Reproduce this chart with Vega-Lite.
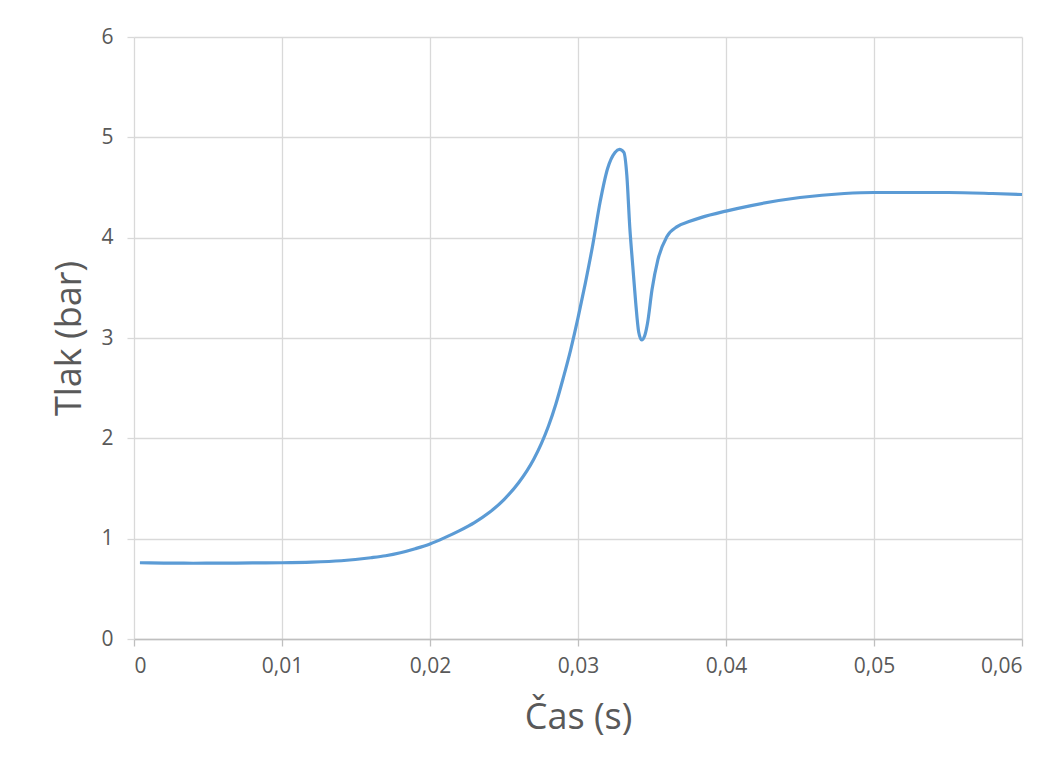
{
  "$schema": "https://vega.github.io/schema/vega-lite/v6.json",
  "autosize": "none",
  "width": 888,
  "height": 602,
  "padding": {"left": 134, "top": 37, "right": 41, "bottom": 132},
  "background": "white",
  "config": {
    "font": "Open Sans",
    "view": {"stroke": null},
    "axis": {
      "gridColor": "#d9d9d9",
      "gridWidth": 1.3,
      "labelColor": "#595959",
      "labelFontSize": 21,
      "titleColor": "#595959",
      "titleFontSize": 36,
      "titleFontWeight": "normal",
      "tickColor": "#d9d9d9",
      "tickSize": 7,
      "tickWidth": 1.3
    }
  },
  "data": {
    "values": [
      {"t": 0.0004, "p": 0.76},
      {"t": 0.002, "p": 0.757},
      {"t": 0.004, "p": 0.755},
      {"t": 0.006, "p": 0.756},
      {"t": 0.008, "p": 0.758},
      {"t": 0.010, "p": 0.76},
      {"t": 0.012, "p": 0.766},
      {"t": 0.014, "p": 0.78},
      {"t": 0.016, "p": 0.81},
      {"t": 0.017, "p": 0.83},
      {"t": 0.018, "p": 0.86},
      {"t": 0.019, "p": 0.9},
      {"t": 0.020, "p": 0.947},
      {"t": 0.021, "p": 1.01},
      {"t": 0.022, "p": 1.08},
      {"t": 0.023, "p": 1.16},
      {"t": 0.024, "p": 1.26},
      {"t": 0.025, "p": 1.39},
      {"t": 0.026, "p": 1.56},
      {"t": 0.027, "p": 1.79},
      {"t": 0.0275, "p": 1.94},
      {"t": 0.028, "p": 2.12},
      {"t": 0.0285, "p": 2.34},
      {"t": 0.029, "p": 2.6},
      {"t": 0.0295, "p": 2.88},
      {"t": 0.030, "p": 3.2},
      {"t": 0.0305, "p": 3.55},
      {"t": 0.031, "p": 3.93},
      {"t": 0.0315, "p": 4.36},
      {"t": 0.032, "p": 4.69},
      {"t": 0.0325, "p": 4.85},
      {"t": 0.0328, "p": 4.88},
      {"t": 0.0331, "p": 4.85},
      {"t": 0.0333, "p": 4.62},
      {"t": 0.0335, "p": 4.1},
      {"t": 0.0337, "p": 3.72},
      {"t": 0.0339, "p": 3.35},
      {"t": 0.0341, "p": 3.06},
      {"t": 0.0343, "p": 2.98},
      {"t": 0.0345, "p": 3.02},
      {"t": 0.0347, "p": 3.15},
      {"t": 0.035, "p": 3.48},
      {"t": 0.0354, "p": 3.78},
      {"t": 0.036, "p": 4.01},
      {"t": 0.0367, "p": 4.11},
      {"t": 0.0375, "p": 4.16},
      {"t": 0.0383, "p": 4.2},
      {"t": 0.040, "p": 4.265},
      {"t": 0.0417, "p": 4.32},
      {"t": 0.045, "p": 4.4},
      {"t": 0.048, "p": 4.44},
      {"t": 0.050, "p": 4.45},
      {"t": 0.055, "p": 4.45},
      {"t": 0.058, "p": 4.44},
      {"t": 0.060, "p": 4.43}
    ]
  },
  "mark": {"type": "line", "color": "#5b9bd5", "strokeWidth": 3.2, "interpolate": "monotone"},
  "encoding": {
    "x": {
      "field": "t",
      "type": "quantitative",
      "scale": {"domain": [0, 0.06], "nice": false, "zero": true},
      "axis": {
        "title": "Čas (s)",
        "values": [0, 0.01, 0.02, 0.03, 0.04, 0.05, 0.06],
        "labelExpr": "replace(format(datum.value, '.2~f'), '.', ',')",
        "domainColor": "#bfbfbf",
        "domainWidth": 1.3,
        "tickColor": "#bfbfbf",
        "labelPadding": 9,
        "titlePadding": 24
      }
    },
    "y": {
      "field": "p",
      "type": "quantitative",
      "scale": {"domain": [0, 6], "nice": false},
      "axis": {
        "title": "Tlak (bar)",
        "values": [0, 1, 2, 3, 4, 5, 6],
        "domain": false,
        "labelPadding": 14,
        "titlePadding": 12
      }
    }
  }
}
